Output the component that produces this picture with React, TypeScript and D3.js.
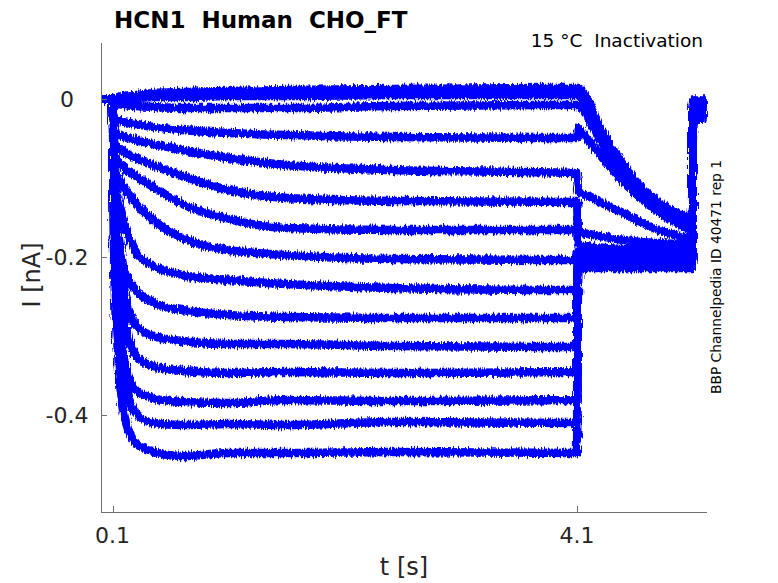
import React from "react";
import * as d3 from "d3";

// ---- data (currents in pA; axis shows nA) ----
const tickX = [0.1, 4.1];
const tickY = [0, -0.2, -0.4];
const tickYLabels = ["0", "-0.2", "-0.4"];

const preT = [0, 0.1];
const holdingPA = 0;

const pulseT = [0.115, 0.15, 0.2, 0.3, 0.45, 0.7, 1.1, 1.6, 2.5, 4.1];
const pulse1 = [1.3, 2.5, 3.8, 5.1, 7.6, 8.9, 10.1, 11.4, 12.7, 13.9];
const pulse2 = [0, 0, 1.3, 1.3, 2.5, 2.5, 3.8, 3.8, 5.1, 5.1];
const pulse3 = [-3.8, -6.3, -7.6, -8.9, -10.1, -11.4, -11.4, -11.4, -8.9, -7.6];
const pulse4 = [-22.8, -26.6, -29.1, -31.6, -35.4, -39.2, -43.0, -45.6, -48.1, -49.4];
const pulse5 = [-39.2, -44.3, -48.1, -51.9, -57.0, -64.6, -74.7, -83.5, -89.9, -93.7];
const pulse6 = [-55.7, -62.0, -67.1, -74.7, -83.5, -97.5, -115.2, -125.3, -129.1, -130.4];
const pulse7 = [-70.9, -79.7, -87.3, -97.5, -111.4, -132.9, -151.9, -163.3, -165.8, -165.8];
const pulse8 = [-87.3, -100.0, -112.7, -131.6, -153.2, -175.9, -191.1, -197.5, -202.5, -203.8];
const pulse9 = [-102.5, -127.8, -155.7, -193.7, -211.4, -222.8, -229.1, -234.2, -239.2, -241.8];
const pulse10 = [-127.8, -172.2, -216.5, -241.8, -258.2, -267.1, -273.4, -276.0, -277.2, -277.2];
const pulse11 = [-140.5, -184.8, -241.8, -286.1, -300.0, -306.3, -310.1, -310.1, -312.7, -313.9];
const pulse12 = [-165.8, -229.1, -279.7, -324.1, -338.0, -344.3, -346.8, -345.6, -346.8, -345.6];
const pulse13 = [-184.8, -267.1, -330.4, -368.4, -378.5, -383.5, -384.8, -381.0, -382.3, -381.0];
const pulse14 = [-191.1, -292.4, -355.7, -397.5, -410.1, -412.7, -411.4, -412.7, -408.9, -410.1];
const pulse15 = [-222.8, -330.4, -400.0, -435.4, -446.8, -451.9, -448.1, -448.1, -446.8, -448.1];

const tailT = [4.11, 4.15, 4.25, 4.35, 4.5, 4.65, 4.8, 4.95, 5.09];
const tail1 = [13.9, 8.9, -20.3, -49.4, -83.5, -111.4, -130.4, -143.0, -150.6];
const tail2 = [5.1, 0, -26.6, -51.9, -86.1, -112.7, -132.9, -145.6, -155.7];
const tail3 = [-7.6, -13.9, -39.2, -64.6, -96.2, -121.5, -140.5, -153.2, -163.3];
const tail4 = [-36.7, -43.0, -62.0, -79.7, -105.1, -125.3, -143.0, -155.7, -165.8];
const tail5 = [-117.7, -120.3, -126.6, -134.2, -144.3, -155.7, -165.8, -172.2, -175.9];
const tail6 = [-168.4, -169.6, -172.2, -174.7, -178.5, -181.0, -182.3, -183.5, -184.8];
const tail7 = [-184.8, -186.1, -187.3, -188.6, -189.9, -189.9, -191.1, -191.1, -191.1];
const tail8 = [-191.1, -192.4, -193.7, -194.9, -194.9, -194.9, -196.2, -196.2, -196.2];
const tail9 = [-196.2, -197.5, -198.7, -198.7, -200.0, -200.0, -200.0, -200.0, -200.0];
const tail10 = [-200.0, -201.3, -201.3, -202.5, -202.5, -202.5, -202.5, -202.5, -202.5];
const tail11 = [-202.5, -203.8, -205.1, -205.1, -206.3, -206.3, -206.3, -206.3, -206.3];
const tail12 = [-206.3, -207.6, -207.6, -208.9, -208.9, -208.9, -208.9, -208.9, -208.9];
const tail13 = [-208.9, -210.1, -210.1, -211.4, -211.4, -211.4, -211.4, -211.4, -211.4];
const tail14 = [-211.4, -211.4, -212.7, -212.7, -212.7, -212.7, -212.7, -212.7, -212.7];
const tail15 = [-212.7, -213.9, -213.9, -213.9, -213.9, -213.9, -213.9, -213.9, -213.9];

const postT = [5.1, 5.215];
const postLevels = [-2, -3, -4, -5, -7, -9, -11, -13, -15, -17, -19, -21, -23, -24, -25];

const pulses = [pulse1, pulse2, pulse3, pulse4, pulse5, pulse6, pulse7, pulse8, pulse9, pulse10, pulse11, pulse12, pulse13, pulse14, pulse15];
const tails = [tail1, tail2, tail3, tail4, tail5, tail6, tail7, tail8, tail9, tail10, tail11, tail12, tail13, tail14, tail15];

const W = 778;
const H = 583;
const FONT = "'DejaVu Sans', sans-serif";

export default function App() {
  const x = d3.scaleLinear().domain([0, 5.22]).range([101, 707]);
  const y = d3.scaleLinear().domain([-0.5228, 0.0709]).range([512, 43]);

  const line = d3
    .line<[number, number]>()
    .x((d) => x(d[0]))
    .y((d) => y(d[1] / 1000))
    .curve(d3.curveMonotoneX);

  const traces = pulses.map((p, i) => {
    const pts: [number, number][] = [];
    preT.forEach((t) => pts.push([t, holdingPA]));
    pulseT.forEach((t, j) => pts.push([t, p[j]]));
    tailT.forEach((t, j) => pts.push([t, tails[i][j]]));
    postT.forEach((t) => pts.push([t, postLevels[i]]));
    return line(pts) as string;
  });

  const axisColor = "#707070";
  const textColor = "#262626";

  return (
    <svg
      width={W}
      height={H}
      style={{ position: "absolute", left: 0, top: 0, background: "#fff" }}
    >
      <defs>
        <filter id="jitter" x="-5%" y="-5%" width="110%" height="110%" filterUnits="objectBoundingBox">
          <feTurbulence type="fractalNoise" baseFrequency="0.7 0.1" numOctaves={2} seed={3} result="n" />
          <feDisplacementMap in="SourceGraphic" in2="n" scale={7} xChannelSelector="B" yChannelSelector="R" />
        </filter>
      </defs>
      <g
        fill="none"
        stroke="#0000ff"
        strokeWidth={8.5}
        strokeLinejoin="round"
        strokeLinecap="butt"
        filter="url(#jitter)"
      >
        {traces.map((d, i) => (
          <path key={i} d={d} />
        ))}
      </g>
      {/* axes */}
      <line x1={101.5} x2={101.5} y1={43} y2={512.5} stroke={axisColor} strokeWidth={1} />
      <line x1={101} x2={707} y1={512.5} y2={512.5} stroke={axisColor} strokeWidth={1} />
      {tickX.map((t) => (
        <g key={t}>
          <line x1={Math.round(x(t)) + 0.5} x2={Math.round(x(t)) + 0.5} y1={512} y2={506} stroke={axisColor} />
          <text x={x(t)} y={543} textAnchor="middle" fontFamily={FONT} fontSize={22} fill={textColor}>
            {t.toFixed(1)}
          </text>
        </g>
      ))}
      {tickY.map((v, i) => (
        <g key={v}>
          <line x1={101} x2={107} y1={Math.round(y(v)) + 0.5} y2={Math.round(y(v)) + 0.5} stroke={axisColor} />
          <text x={67} y={y(v) + 8} textAnchor="middle" fontFamily={FONT} fontSize={22} fill={textColor}>
            {tickYLabels[i]}
          </text>
        </g>
      ))}
      <text x={404} y={575} textAnchor="middle" fontFamily={FONT} fontSize={24} fill={textColor}>
        t [s]
      </text>
      <text
        transform="translate(40,275) rotate(-90)"
        textAnchor="middle"
        fontFamily={FONT}
        fontSize={24}
        fill={textColor}
      >
        I [nA]
      </text>
      <text x={114} y={28} fontFamily={FONT} fontSize={23} fontWeight="bold" fill="#000" style={{ whiteSpace: "pre" }}>
        {"HCN1  Human  CHO_FT"}
      </text>
      <text x={703} y={47} textAnchor="end" fontFamily={FONT} fontSize={18.5} fill="#000" style={{ whiteSpace: "pre" }}>
        {"15 °C  Inactivation"}
      </text>
      <text
        transform="translate(721,277) rotate(-90)"
        textAnchor="middle"
        fontFamily={FONT}
        fontSize={13.8}
        fill="#000"
      >
        BBP Channelpedia ID 40471 rep 1
      </text>
    </svg>
  );
}
